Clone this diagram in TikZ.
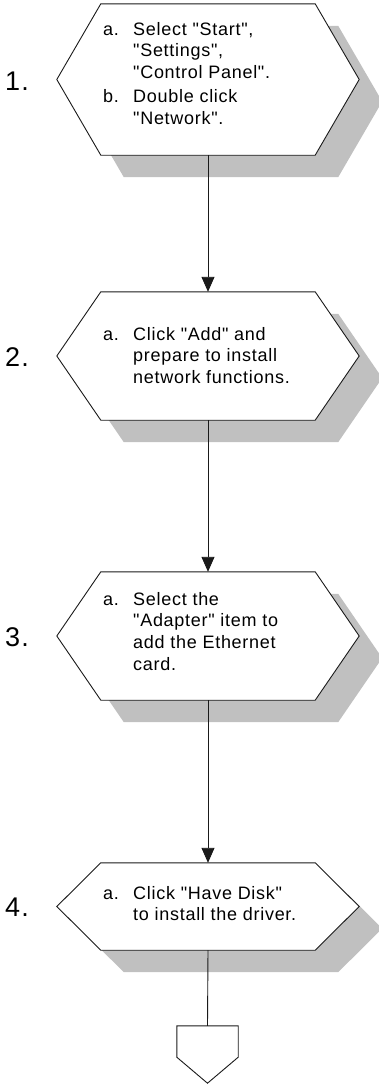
\documentclass[tikz,border=0pt]{standalone}
\usepackage{fontspec}
\setmainfont{Liberation Sans}
\newfontfamily\stepfont{Liberation Sans}[LetterSpace=4]
\usepackage{tikz}
\usetikzlibrary{arrows.meta,calc}
\definecolor{ink}{HTML}{1A1A1A}
\definecolor{shade}{HTML}{C0C0C0}
\tikzset{
  >={Triangle[length=15pt,width=13pt]},
  core/.style={inner sep=0pt,minimum width=214pt},
  offpage/.style={inner sep=0pt,minimum width=61pt,minimum height=31pt},
  hexof/.style={insert path={(#1.north west) -- (#1.north east) -- ([xshift=44pt]#1.east)
    -- (#1.south east) -- (#1.south west) -- ([xshift=-44pt]#1.west) -- cycle}},
  hexline/.style={draw=ink,line width=.9pt,fill=white},
  shadow/.style={fill=shade,transform canvas={shift={(23pt,-22pt)}}},
  flow/.style={->,draw=ink,line width=.9pt},
  link/.style={draw=ink,line width=.9pt},
  stepno/.style={font=\stepfont\fontsize{27}{27}\selectfont,anchor=base west,inner sep=0pt},
  % base of a multi-line item is the baseline of its last line
  item/.style={font=\stepfont\fontsize{18}{21.7}\selectfont,anchor=base west,inner sep=0pt,align=left},
}

\begin{document}
\begin{tikzpicture}[x=1pt,y=1pt]
  \useasboundingbox (0,0) rectangle (378,-1084);
  % flat parts of the step boxes
  \node[core,minimum height=151pt] (s1) at (208,-79.5) {};
  \node[core,minimum height=128pt] (s2) at (208,-356) {};
  \node[core,minimum height=128pt] (s3) at (208,-636) {};
  \node[core,minimum height=87pt] (s4) at (208,-906.5) {};
  \node[offpage] (off) at (207.5,-1041.5) {};

  \foreach \s in {s1,s2,s3,s4}{
    \fill[shadow,hexof=\s];
    \draw[hexline,hexof=\s];
  }
  \draw[hexline] (off.north west) -- (off.north east) -- (off.south east)
    -- ([yshift=-26pt]off.south) -- (off.south west) -- cycle;

  \draw[flow] (s1.south) -- (s2.north);
  \draw[flow] (s2.south) -- (s3.north);
  \draw[flow] (s3.south) -- (s4.north);
  \draw[link] (s4.south) -- (off.north);

  \node[stepno] (n1) at (5,-90) {1.};
  \node[stepno] (n2) at (5,-366) {2.};
  \node[stepno] (n3) at (5,-646) {3.};
  \node[stepno] (n4) at (5,-916) {4.};

  \node[item] (i1a) at (103,-35) {a.};
  \node[item] (t1a) at (133,-78.4) {Select "Start",\\"Settings",\\"Control Panel".};
  \node[item] (i1b) at (103,-102.3) {b.};
  \node[item] (t1b) at (133,-124) {Double click\\"Network".};
  \node[item] (i2a) at (103,-340) {a.};
  \node[item] (t2a) at (133,-383.4) {Click "Add" and\\prepare to install\\network functions.};
  \node[item] (i3a) at (103,-605) {a.};
  \node[item] (t3a) at (133,-670.1) {Select the\\"Adapter" item to\\add the Ethernet\\card.};
  \node[item] (i4a) at (103,-899) {a.};
  \node[item] (t4a) at (133,-920.7) {Click "Have Disk"\\to install the driver.};
\end{tikzpicture}
\end{document}
